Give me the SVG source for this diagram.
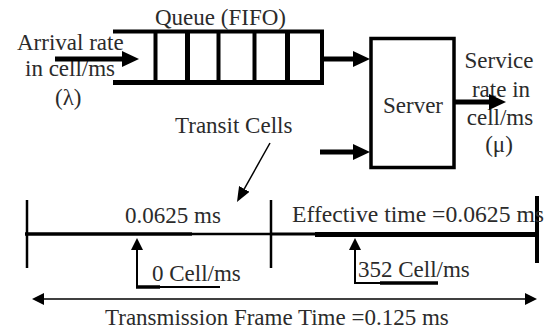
<svg xmlns="http://www.w3.org/2000/svg" width="546" height="333" viewBox="0 0 546 333">
<defs>
<marker id="big" viewBox="0 -8 17 16" refX="0" refY="0" markerWidth="17" markerHeight="16" markerUnits="userSpaceOnUse" orient="auto"><path d="M0,-8 L17,0 L0,8 z" fill="#000"/></marker>
<marker id="small" viewBox="0 -6 12 12" refX="0" refY="0" markerWidth="12" markerHeight="12" markerUnits="userSpaceOnUse" orient="auto-start-reverse"><path d="M0,-6 L12,0 L0,6 z" fill="#000"/></marker>
<marker id="thin" viewBox="0 -6 15 12" refX="0" refY="0" markerWidth="15" markerHeight="12" markerUnits="userSpaceOnUse" orient="auto"><path d="M0,-6 L15,0 L0,6 z" fill="#000"/></marker>
</defs>
<rect width="546" height="333" fill="#fff"/>
<g id="queue" stroke="#000" fill="none">
<path stroke-width="4" d="M113,31.5 H324"/>
<path stroke-width="5" d="M113,82.5 H324"/>
<path stroke-width="4" d="M155.5,31 V84"/>
<path stroke-width="5" d="M187.5,31 V84"/>
<path stroke-width="4" d="M218.5,31 V84"/>
<path stroke-width="4" d="M254.5,31 V84"/>
<path stroke-width="5" d="M287.5,31 V84"/>
<path stroke-width="4" d="M322,30 V85"/>
<text x="155" y="25" font-family="'Liberation Serif', serif" font-size="23" fill="#2b2b2b" stroke="none">Queue (FIFO)</text>
</g>
<g id="arrival">
<text x="17" y="50" font-family="'Liberation Serif', serif" font-size="23" fill="#2b2b2b">Arrival rate</text>
<text x="25" y="76" font-family="'Liberation Serif', serif" font-size="23" fill="#2b2b2b">in cell/ms</text>
<text x="55" y="105" font-family="'Liberation Serif', serif" font-size="23" fill="#2b2b2b">(λ)</text>
</g>
<g id="server">
<rect x="371" y="38.5" width="83" height="129" stroke="#000" fill="none" stroke-width="3.5"/>
<text x="413" y="113" text-anchor="middle" font-family="'Liberation Serif', serif" font-size="23" fill="#2b2b2b">Server</text>
</g>
<g id="service">
<text x="499" y="68" text-anchor="middle" font-family="'Liberation Serif', serif" font-size="23" fill="#2b2b2b">Service</text>
<text x="501" y="97" text-anchor="middle" font-family="'Liberation Serif', serif" font-size="23" fill="#2b2b2b">rate in</text>
<text x="500" y="125" text-anchor="middle" font-family="'Liberation Serif', serif" font-size="23" fill="#2b2b2b">cell/ms</text>
<text x="499" y="152" text-anchor="middle" font-family="'Liberation Serif', serif" font-size="23" fill="#2b2b2b">(μ)</text>
</g>
<g id="transit">
<text x="175" y="133" font-family="'Liberation Serif', serif" font-size="23" fill="#2b2b2b">Transit Cells</text>
</g>
<g id="timeline">
<g stroke="#000" fill="none">
<path stroke-width="3.5" d="M25,234 H192"/>
<path stroke-width="2.5" d="M192,234 H271"/>
<path stroke-width="3" d="M271,234 H315"/>
<path stroke-width="5" d="M315,234.5 H537"/>
<path stroke-width="2.5" d="M27,200 V268"/>
<path stroke-width="2.5" d="M271,200 V268"/>
<path stroke-width="4" d="M537,196 V263"/>
</g>
<text x="125" y="223" font-family="'Liberation Serif', serif" font-size="23" fill="#2b2b2b">0.0625 ms</text>
<text x="292" y="222" font-family="'Liberation Serif', serif" font-size="23" fill="#2b2b2b" textLength="252" lengthAdjust="spacingAndGlyphs">Effective time =0.0625 ms</text>
<text x="152" y="281" font-family="'Liberation Serif', serif" font-size="23" fill="#2b2b2b">0 Cell/ms</text>
<text x="358" y="277" font-family="'Liberation Serif', serif" font-size="23" fill="#2b2b2b">352 Cell/ms</text>
<text x="105" y="325" font-family="'Liberation Serif', serif" font-size="23" fill="#2b2b2b">Transmission Frame Time =0.125 ms</text>
</g>
<g id="connectors" stroke="#000" fill="none">
<path stroke-width="5" d="M55,59 H122" marker-end="url(#big)"/>
<path stroke-width="5" d="M323,59 H353" marker-end="url(#big)"/>
<path stroke-width="5" d="M320,152 H353" marker-end="url(#big)"/>
<path stroke-width="5" d="M455,102 H489" marker-end="url(#big)"/>
<path stroke-width="1.5" d="M270,143 L244.3,188.9" marker-end="url(#thin)"/>
<path stroke-width="2" d="M137,287 V250" marker-end="url(#small)"/>
<path stroke-width="3.5" d="M136,287 H160"/>
<path stroke-width="2" d="M160,287 H220"/>
<path stroke-width="2" d="M355,283 V250" marker-end="url(#small)"/>
<path stroke-width="2" d="M354,283 H380"/>
<path stroke-width="3.5" d="M380,283 H438"/>
<path stroke-width="1.5" d="M44,299 H525" marker-start="url(#small)" marker-end="url(#small)"/>
</g>
</svg>
